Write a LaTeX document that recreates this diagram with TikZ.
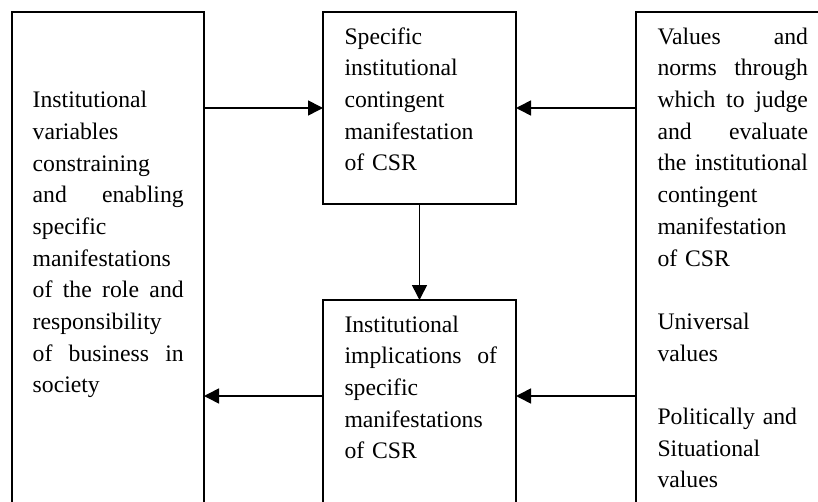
\documentclass[tikz,border=0pt]{standalone}
\usepackage{fontspec}
\setmainfont{Liberation Serif}
\usetikzlibrary{arrows.meta}
\newlength{\jwd}
\newcommand{\jl}[1]{\leavevmode\hbox to \jwd{\spaceskip=0.25em plus 1fil\relax #1}}
\begin{document}
\begin{tikzpicture}[x=1pt,y=-1pt,
  boxnode/.style={draw, line width=1.8pt, inner sep=0pt, outer sep=0pt},
  txt/.style={inner sep=0pt, anchor=north west, align=left, text width=#1,
    execute at begin node={\setlength{\jwd}{#1}},
    font=\fontsize{23.7pt}{31.7pt}\selectfont},
  arr/.style={line width=1.6pt, -{Triangle[length=15pt,width=15pt]}}]
\useasboundingbox (0,0) rectangle (818,502);
\fill[white] (0,0) rectangle (818,502);
\clip (0,0) rectangle (818,502);

% boxes
\node[boxnode, minimum width=192pt, minimum height=508pt] (L) at (108,266) {};
\node[boxnode, minimum width=193pt, minimum height=192pt] (T) at (419.5,108) {};
\node[boxnode, minimum width=193pt, minimum height=220pt] (B) at (419.5,410) {};
\node[boxnode, minimum width=194pt, minimum height=508pt] (R) at (733,266) {};

% texts
\node[txt=151pt] (Ltxt) at (32.5,85.3) {\strut Institutional\\ variables\\ constraining\\ \jl{and enabling}\\ specific\\ manifestations\\ \jl{of the role and}\\ responsibility\\ \jl{of business in}\\ society};
\node[txt=152.5pt] (Ttxt) at (344.3,21.8) {\strut Specific\\ institutional\\ contingent\\ manifestation\\ of CSR};
\node[txt=152.5pt] (Btxt) at (344.3,309.8) {\strut Institutional\\ \jl{implications of}\\ specific\\ manifestations\\ of CSR};
\node[txt=150.5pt] (Rtxt) at (657.3,21.8) {\strut \jl{Values and}\\ \jl{norms through}\\ \jl{which to judge}\\ \jl{and evaluate}\\ \jl{the institutional}\\ contingent\\ manifestation\\ of CSR\\[31.7pt] Universal\\ values\\[31.7pt] Politically and\\ Situational\\ values};

% connectors
\coordinate (lowy) at (0,396);
\draw[arr] (L.east |- T.west) -- (T.west);
\draw[arr] (R.west |- T.east) -- (T.east);
\draw[arr] (T.south) -- (B.north);
\draw[arr] (R.west |- lowy) -- (B.east |- lowy);
\draw[arr] (B.west |- lowy) -- (L.east |- lowy);
\end{tikzpicture}
\end{document}
